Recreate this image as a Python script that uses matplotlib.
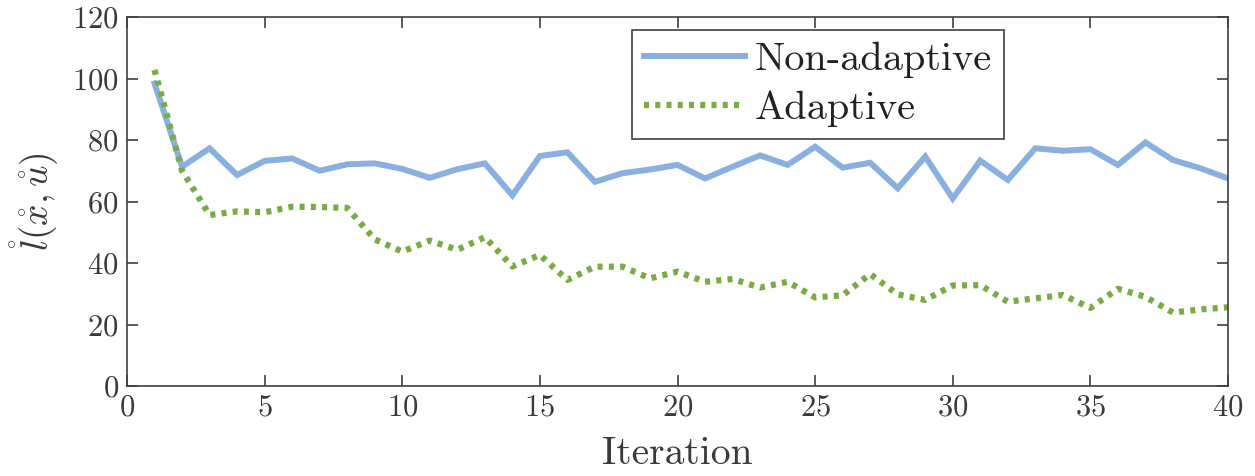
import matplotlib
matplotlib.use("Agg")
import matplotlib.pyplot as plt

plt.rcParams['font.family'] = 'serif'
plt.rcParams['font.serif'] = ['cmr10', 'DejaVu Serif']
plt.rcParams['mathtext.fontset'] = 'cm'
plt.rcParams['axes.formatter.use_mathtext'] = True

iterations = list(range(1, 41))
non_adaptive = [98.4, 71.3, 77.3, 68.6, 73.2, 74.0, 70.0, 72.1, 72.4, 70.6,
                67.7, 70.5, 72.4, 62.0, 74.8, 76.0, 66.4, 69.2, 70.4, 71.9,
                67.5, 71.3, 75.0, 71.9, 77.8, 71.0, 72.6, 64.3, 74.6, 61.0,
                73.3, 67.0, 77.3, 76.5, 77.0, 71.9, 79.2, 73.5, 70.8, 67.5]
adaptive = [102.8, 70.0, 55.6, 56.8, 56.5, 58.3, 58.2, 57.9, 47.7, 43.7,
            47.3, 44.3, 48.4, 38.9, 42.6, 34.5, 38.8, 38.8, 35.0, 37.2,
            33.9, 34.8, 32.0, 33.9, 28.8, 29.5, 36.4, 29.8, 28.0, 32.7,
            32.8, 27.4, 28.5, 29.6, 25.4, 31.6, 29.0, 23.9, 24.9, 25.6]
xticks = [0, 5, 10, 15, 20, 25, 30, 35, 40]
yticks = [0, 20, 40, 60, 80, 100, 120]

fig = plt.figure(figsize=(12.55, 4.76), dpi=100)
ax = fig.add_axes([127/1255, 90/476, 1101/1255, 369/476])

ax.plot(iterations, non_adaptive, color='#89b0df', lw=4.3, solid_joinstyle='miter',
        label='Non-adaptive')
ax.plot(iterations, adaptive, color='#77ad42', lw=4.5, linestyle=(0, (0.8, 1.0)),
        dash_capstyle='butt', label='Adaptive')

ax.set_xlim(0, 40)
ax.set_ylim(0, 120)
ax.set_xticks(xticks)
ax.set_yticks(yticks)

axis_col = '#404040'
for s in ax.spines.values():
    s.set_color(axis_col)
    s.set_linewidth(1.2)
ax.tick_params(direction='in', top=True, right=True, length=8, width=1.2,
               colors=axis_col, labelsize=22, labelcolor='#3a3a3a', pad=6)

ax.set_xlabel('Iteration', fontsize=28.5, color='#3a3a3a', labelpad=10)
ax.set_ylabel(r'$\mathring{l}(\mathring{x},\mathring{u})$', fontsize=27,
              color='#3a3a3a', labelpad=8)

leg = ax.legend(loc='upper left', bbox_to_anchor=(0.459, 0.965), fontsize=29,
                frameon=True, fancybox=False, framealpha=1, handlelength=2.5,
                handletextpad=0.25, borderpad=0.3, labelspacing=0.3,
                borderaxespad=0)
leg.get_frame().set_edgecolor('#404040')
leg.get_frame().set_linewidth(1.2)
for t in leg.get_texts():
    t.set_color('#222222')

fig.savefig('out.png', dpi=100)
